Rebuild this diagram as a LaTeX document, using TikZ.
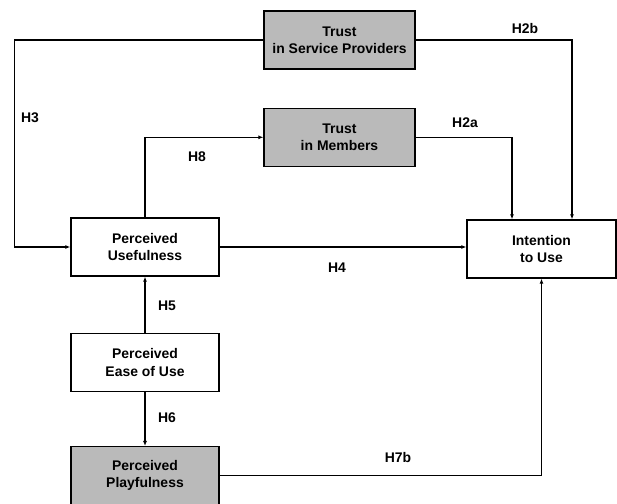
\documentclass[tikz,border=0pt]{standalone}
\usepackage{fontspec}
\setmainfont{Liberation Sans}
\usepackage{tikz}
\usetikzlibrary{arrows.meta,positioning}

\begin{document}
\begin{tikzpicture}[
  x=1bp, y=-1bp,
  node distance=55bp and 1cm,
  >={Latex[length=5bp,width=4bp]},
  font=\fontsize{14}{17.5}\selectfont\bfseries,
  box/.style={draw, line width=1.3bp, align=center, minimum height=58bp,
              minimum width=148bp, inner sep=0pt},
  shaded/.style={box, fill=black!27, minimum width=151bp},
  flow/.style={->, line width=1.3bp},
  hyp/.style={inner sep=0pt}
]
  \useasboundingbox (0,0) rectangle (617,504);

  \node[shaded] (tsp) at (339.5,40) {Trust\\in Service Providers};
  \node[shaded, below=38bp of tsp] (tm) {Trust\\in Members};
  \node[box] (pu) at (145,247) {Perceived\\Usefulness};
  \node[box, minimum width=149bp] (iu) at (541.5,249) {Intention\\to Use};
  \node[box, below=56bp of pu] (peu) {Perceived\\Ease of Use};
  \node[shaded, minimum width=148bp, below=54bp of peu] (pp) {Perceived\\Playfulness};

  \node[hyp] (h2b) at (525,29) {H2b};
  \node[hyp] (h3) at (30,118) {H3};
  \node[hyp] (h2a) at (465,123) {H2a};
  \node[hyp] (h8) at (197,157) {H8};
  \node[hyp] (h4) at (337,268) {H4};
  \node[hyp] (h5) at (167,306) {H5};
  \node[hyp] (h6) at (167,418) {H6};
  \node[hyp] (h7b) at (398,458) {H7b};

  \draw[flow] (tsp.west) -- ++(-249,0) |- (pu.west);
  \draw[flow] (tsp.east) -| ([xshift=30.5bp]iu.north);
  \draw[flow] (pu.north) |- (tm.west);
  \draw[flow] (tm.east) -| ([xshift=-29.5bp]iu.north);
  \draw[flow] (pu.east) -- (pu.east -| iu.west);
  \draw[flow] (peu.north) -- (pu.south);
  \draw[flow] (peu.south) -- (pp.north);
  \draw[flow] (pp.east) -| (iu.south);
\end{tikzpicture}
\end{document}
